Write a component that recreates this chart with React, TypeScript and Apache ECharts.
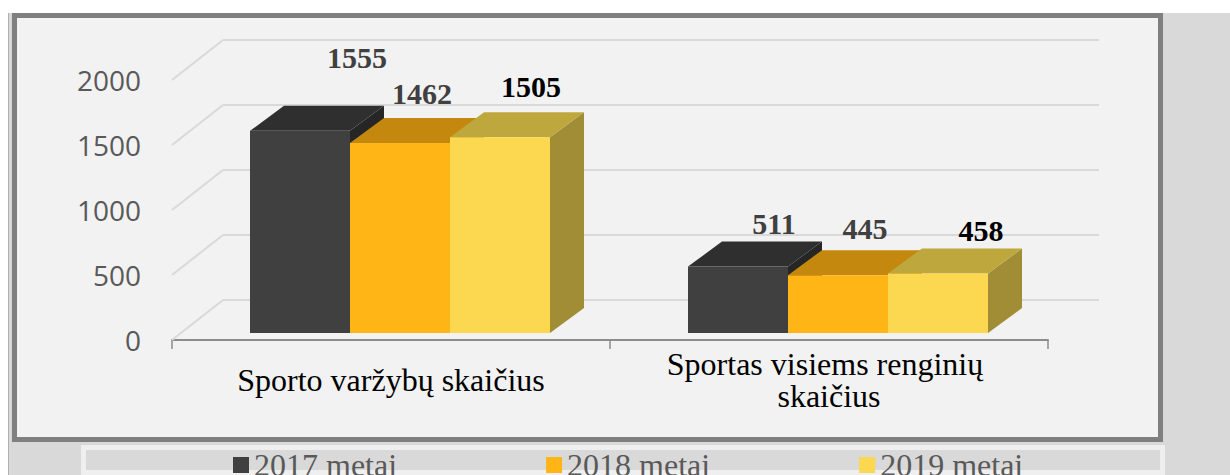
import React, { useEffect, useRef } from "react";
import * as echarts from "echarts";

// ---- data ----
const categories = ["Sporto varžybų skaičius", "Sportas visiems renginių skaičius"];
const seriesNames = ["2017 metai", "2018 metai", "2019 metai"];
const values2017 = [1555, 511];
const values2018 = [1462, 445];
const values2019 = [1505, 458];
const yTicks = [0, 500, 1000, 1500, 2000];

// ---- style / layout ----
const palette = [
  { front: "#404040", top: "#2f2f2f", side: "#262626", label: "#404040" },
  { front: "#ffb515", top: "#c4880f", side: "#a3720d", label: "#404040" },
  { front: "#fbd84f", top: "#bea83e", side: "#a08d35", label: "#000000" },
];
const labelNudge = [
  [[57, -73], [36, -43]],
  [[22, -49], [27, -47]],
  [[31, -51], [43, -43]],
];
const BAR_FRAC = 100 / 438; // bar width as fraction of category band
const SHIFT_X = 9; // bar front plane offset from axis plane
const SHIFT_Y = -7;
const BAR_DX = 34; // bar depth
const BAR_DY = -25;
const WALL_DX = 51; // back wall offset
const WALL_DY = -40;

export default function App() {
  const ref = useRef<HTMLDivElement>(null);

  useEffect(() => {
    if (!ref.current) return;
    const chart = echarts.init(ref.current, undefined, { renderer: "svg" });
    const allValues = [values2017, values2018, values2019];

    const barSeries = allValues.map((vals, s) => ({
      type: "custom",
      name: seriesNames[s],
      z: 3,
      clip: false,
      itemStyle: { color: palette[s].front },
      data: vals.map((v, i) => [i, v]),
      renderItem: (params: any, api: any) => {
        const ci = api.value(0);
        const v = api.value(1);
        const base = api.coord([ci, 0]);
        const topP = api.coord([ci, v]);
        const catW = api.size([1, 0])[0];
        const bw = catW * BAR_FRAC;
        const x0 = base[0] - 1.5 * bw + s * bw + SHIFT_X;
        const x1 = x0 + bw;
        const yb = base[1] + SHIFT_Y;
        const yt = topP[1] + SHIFT_Y;
        const nudge = labelNudge[s][ci];
        return {
          type: "group",
          children: [
            {
              type: "polygon",
              shape: { points: [[x1, yt], [x1 + BAR_DX, yt + BAR_DY], [x1 + BAR_DX, yb + BAR_DY], [x1, yb]] },
              style: { fill: palette[s].side },
            },
            {
              type: "polygon",
              shape: { points: [[x0, yt], [x1, yt], [x1 + BAR_DX, yt + BAR_DY], [x0 + BAR_DX, yt + BAR_DY]] },
              style: { fill: palette[s].top },
            },
            {
              type: "rect",
              shape: { x: x0, y: yt, width: bw, height: yb - yt },
              style: { fill: palette[s].front },
            },
            {
              type: "text",
              x: x0 + bw / 2 + nudge[0],
              y: yt + nudge[1],
              style: {
                text: String(v),
                fill: palette[s].label,
                fontFamily: '"Liberation Serif", "Times New Roman", serif',
                fontWeight: "bold",
                fontSize: 30,
                align: "center",
                verticalAlign: "middle",
              },
            },
          ],
        };
      },
    }));

    const wallSeries = {
      type: "custom",
      name: "wall",
      z: 1,
      clip: false,
      silent: true,
      data: yTicks.map((t) => [0, t]),
      renderItem: (params: any, api: any) => {
        const cs = params.coordSys;
        const p = api.coord([0, api.value(1)]);
        const y = p[1];
        const xl = cs.x;
        const xr = cs.x + cs.width;
        const ls = { stroke: "#d9d9d9", lineWidth: 2 };
        return {
          type: "group",
          children: [
            { type: "line", shape: { x1: xl, y1: y, x2: xl + WALL_DX, y2: y + WALL_DY }, style: ls },
            { type: "line", shape: { x1: xl + WALL_DX, y1: y + WALL_DY, x2: xr + WALL_DX, y2: y + WALL_DY }, style: ls },
          ],
        };
      },
    };

    chart.setOption({
      animation: false,
      backgroundColor: "#ffffff",
      graphic: {
        elements: [
          { type: "rect", z: 0, shape: { x: 8, y: 13, width: 1222, height: 462 }, style: { fill: "#d9d9d9" } },
          { type: "line", z: 0, shape: { x1: 8.5, y1: 13, x2: 8.5, y2: 475 }, style: { stroke: "#b0b0b0", lineWidth: 1 } },
          {
            type: "rect",
            z: 0,
            shape: { x: 14.5, y: 15.5, width: 1146, height: 424 },
            style: { fill: "#f2f2f2", stroke: "#7f7f7f", lineWidth: 5 },
          },
          {
            type: "rect",
            z: 0,
            shape: { x: 83.5, y: 447.5, width: 1079, height: 25 },
            style: { fill: "#d9d9d9", stroke: "#efefef", lineWidth: 5 },
          },
        ],
      },
      legend: {
        data: seriesNames,
        icon: "rect",
        itemWidth: 16,
        itemHeight: 16,
        itemGap: 149,
        left: 233,
        top: 449,
        padding: 0,
        textStyle: {
          fontFamily: '"Liberation Serif", "Times New Roman", serif',
          fontSize: 32,
          color: "#595959",
        },
      },
      grid: { left: 172, right: 182, top: 80, bottom: 135, containLabel: false },
      xAxis: {
        type: "category",
        data: categories,
        axisLine: { lineStyle: { color: "#8c8c8c", width: 2 } },
        axisTick: { show: true, length: 9, lineStyle: { color: "#8c8c8c", width: 1.5 } },
        axisLabel: {
          interval: 0,
          fontFamily: '"Liberation Serif", "Times New Roman", serif',
          fontSize: 32,
          lineHeight: 32,
          color: "#000000",
          width: 400,
          overflow: "break",
          margin: 40,
          verticalAlign: "middle",
          hideOverlap: false,
        },
        splitLine: { show: false },
      },
      yAxis: {
        type: "value",
        min: 0,
        max: 2000,
        interval: 500,
        axisLine: { show: false },
        axisTick: { show: false },
        splitLine: { show: false },
        axisLabel: {
          formatter: (v: number) => String(v),
          fontFamily: '"Open Sans", "Liberation Sans", sans-serif',
          fontSize: 28,
          color: "#595959",
          margin: 31,
        },
      },
      series: [wallSeries, ...barSeries],
    });

    return () => chart.dispose();
  }, []);

  return (
    <div
      ref={ref}
      style={{ position: "absolute", left: 0, top: 0, width: 1230, height: 475 }}
    />
  );
}
